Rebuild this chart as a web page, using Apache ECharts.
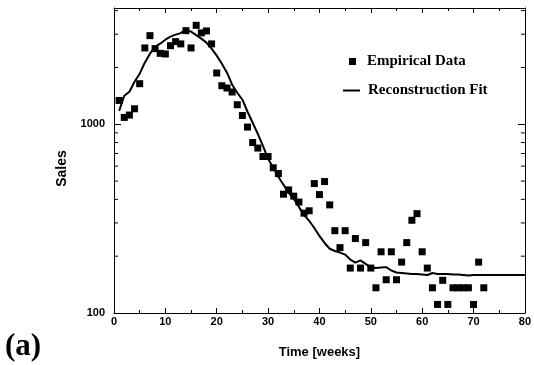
<!DOCTYPE html>
<html>
<head>
<meta charset="utf-8">
<script src="https://cdn.jsdelivr.net/npm/echarts@6/dist/echarts.min.js"></script>
<style>
html,body{margin:0;padding:0;background:#fff;}
#chart{width:534px;height:365px;}
</style>
</head>
<body>
<div id="chart"></div>
<script>
// Empirical data (weekly sales)
const empiricalWeeks = [1,2,3,4,5,6,7,8,9,10,11,12,13,14,15,16,17,18,19,20,21,22,23,24,25,26,27,28,29,30,31,32,33,34,35,36,37,38,39,40,41,42,43,44,45,46,47,48,49,50,51,52,53,54,55,56,57,58,59,60,61,62,63,64,65,66,67,68,69,70,71,72];
const empiricalSales = [1337,1087,1119,1208,1640,2537,2948,2515,2375,2357,2608,2740,2665,3133,2537,3343,3047,3122,2665,1869,1600,1556,1482,1269,1113,966,800,748,675,675,588,548,426,449,416,387,338,348,485,424,497,374,273,222,273,173,248,173,236,173,136,211,150,211,150,186,236,310,336,211,173,136,111,149,111,136,136,136,136,111,186,136];

// Reconstruction fit
const fitWeeks = [1,2,3,4,5,6,7,8,9,10,11,12,13,14,15,16,17,18,19,20,21,22,23,24,25,26,27,28,29,30,31,32,33,34,35,36,37,38,39,40,41,42,43,44,45,46,47,48,49,50,51,52,53,54,55,56,57,58,59,60,61,62,63,64,65,66,67,68,69,70,71,72,73,74,75,76,77,78,79,80];
const fitSales = [1178,1416,1488,1681,1853,2119,2366,2577,2672,2806,2911,2984,3040,3170,3095,2965,2842,2706,2515,2309,2094,1876,1620,1469,1349,1165,1018,890,769,656,588,527,478,433,403,365,331,308,282,256,235,219,213,209,204,192,185,190,182,174,173,174,175,168,164,163,162,161,161,160,159,163,161,161,161,160,160,159,158,159,159,159,159,159,159,159,159,159,159,159];

// Axis ticks
const yMinorTicks = [200,300,400,500,600,700,800,900,2000,3000,4000];

const chart = echarts.init(document.getElementById('chart'), null, {renderer:'canvas'});
const sansBold = {fontFamily:'Liberation Sans', fontWeight:'bold', color:'#000'};
const serifBold = {fontFamily:'Liberation Serif', fontWeight:'bold', color:'#000'};
const blackLine = {color:'#000', width:1};

const option = {
  animation:false,
  backgroundColor:'#fff',
  grid:{left:114, right:6, top:8, bottom:52, containLabel:false},
  title:{text:'(a)', left:5, top:331, padding:0, textStyle:Object.assign({fontSize:31}, serifBold)},
  legend:[
    {data:['Empirical Data'], left:349, top:54, padding:0, itemWidth:7, itemHeight:7, icon:'rect',
     textStyle:Object.assign({fontSize:15, padding:[0,0,0,6]}, serifBold)},
    {data:['Reconstruction Fit'], left:343, top:83, padding:0, itemWidth:17, itemHeight:2, icon:'rect',
     textStyle:Object.assign({fontSize:15, padding:[0,0,0,3]}, serifBold)}
  ],
  xAxis:[
    {type:'value', min:0, max:80, interval:10, position:'bottom',
     axisLine:{show:true, onZero:false, lineStyle:blackLine},
     axisTick:{show:true, inside:true, length:5, lineStyle:blackLine},
     minorTick:{show:true, splitNumber:2, length:3, lineStyle:blackLine},
     splitLine:{show:false},
     axisLabel:Object.assign({fontSize:11, margin:3}, sansBold),
     name:'Time [weeks]', nameLocation:'middle', nameGap:33,
     nameTextStyle:Object.assign({fontSize:13}, sansBold)},
    {type:'value', min:0, max:80, interval:10, position:'top',
     axisLine:{show:true, onZero:false, lineStyle:blackLine},
     axisTick:{show:true, inside:true, length:5, lineStyle:blackLine},
     minorTick:{show:true, splitNumber:2, length:3, lineStyle:blackLine},
     splitLine:{show:false}, axisLabel:{show:false}}
  ],
  yAxis:[
    {type:'log', logBase:10, min:100, max:4130, position:'left',
     axisLine:{show:true, onZero:false, lineStyle:blackLine},
     axisTick:{show:true, inside:true, length:7, lineStyle:blackLine},
     splitLine:{show:false},
     axisLabel:Object.assign({fontSize:11, margin:9, showMaxLabel:false,
       formatter:function(v){return String(Math.round(v));}}, sansBold),
     name:'Sales', nameLocation:'middle', nameRotate:90, nameGap:39,
     nameTextStyle:Object.assign({fontSize:14, padding:[0,16,0,0]}, sansBold)},
    {type:'log', logBase:10, min:100, max:4130, position:'right',
     axisLine:{show:true, onZero:false, lineStyle:blackLine},
     axisTick:{show:true, inside:true, length:7, lineStyle:blackLine},
     splitLine:{show:false}, axisLabel:{show:false}}
  ],
  series:[
    {name:'Reconstruction Fit', type:'line', xAxisIndex:0, yAxisIndex:0,
     data:fitWeeks.map((w,i)=>[w, fitSales[i]]),
     showSymbol:false, symbol:'none', smooth:false,
     lineStyle:{color:'#000', width:2}, itemStyle:{color:'#000'}, z:3},
    {name:'Empirical Data', type:'scatter', xAxisIndex:0, yAxisIndex:0,
     data:empiricalWeeks.map((w,i)=>[w, empiricalSales[i]]),
     symbol:'rect', symbolSize:7, itemStyle:{color:'#000', opacity:1}, z:4},
    {name:'minorTicks', type:'custom', xAxisIndex:0, yAxisIndex:0, silent:true, clip:false,
     data:yMinorTicks.map(v=>[0, v]),
     renderItem:function(params, api){
       const v = api.value(1);
       const l = api.coord([0, v]);
       const r = api.coord([80, v]);
       return {type:'group', children:[
         {type:'line', shape:{x1:l[0], y1:l[1], x2:l[0]+4, y2:l[1]}, style:{stroke:'#000', lineWidth:1}},
         {type:'line', shape:{x1:r[0]-4, y1:r[1], x2:r[0], y2:r[1]}, style:{stroke:'#000', lineWidth:1}}
       ]};
     }, z:2}
  ]
};
chart.setOption(option);
</script>
</body>
</html>
